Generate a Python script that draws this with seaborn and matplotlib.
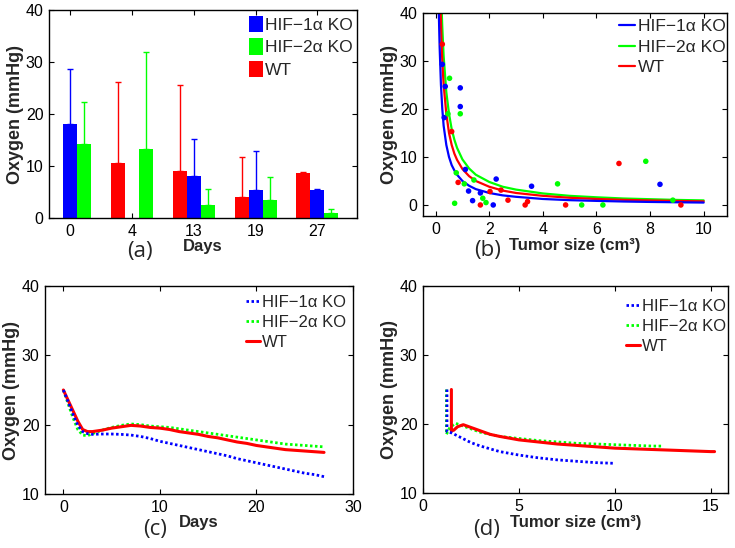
import numpy as np
import pandas as pd
import matplotlib
matplotlib.use("Agg")
import matplotlib.pyplot as plt
import seaborn as sns
from matplotlib.patches import Patch
from matplotlib.lines import Line2D

# ---------------- data ----------------
G1, G2, WT = "HIF\u22121\u03b1 KO", "HIF\u22122\u03b1 KO", "WT"
groups = [G1, G2, WT]
colors = {G1: "#0000ff", G2: "#00ff00", WT: "#ff0000"}

# (a) bar chart
days_a = ["0", "4", "13", "19", "27"]
wt_mean = [np.nan, 10.6, 9.1, 4.0, 8.7]
wt_err = [np.nan, 15.5, 16.4, 7.7, 0.2]
hif1_mean = [18.1, np.nan, 8.0, 5.3, 5.4]
hif1_err = [10.5, np.nan, 7.2, 7.6, 0.2]
hif2_mean = [14.3, 13.2, 2.5, 3.5, 0.95]
hif2_err = [8.0, 18.8, 3.0, 4.3, 0.75]

# (b) scatter points
b1_x = [0.25, 0.36, 0.32, 0.92, 0.92, 1.11, 1.23, 1.38, 1.67, 2.15, 2.26, 3.58, 8.37]
b1_y = [29.3, 24.7, 18.2, 24.4, 20.5, 7.4, 2.9, 0.9, 2.5, 0.0, 5.4, 3.9, 4.3]
b2_x = [0.52, 0.46, 0.92, 0.77, 1.07, 1.43, 1.76, 1.88, 0.71, 4.55, 5.45, 6.24, 7.84, 8.85]
b2_y = [26.4, 19.0, 19.0, 6.7, 4.4, 5.2, 1.4, 0.5, 0.35, 4.4, 0.0, 0.0, 9.1, 1.0]
bw_x = [0.25, 0.60, 0.84, 2.03, 2.44, 1.67, 2.70, 3.43, 3.34, 4.85, 6.84, 9.15]
bw_y = [33.5, 15.3, 4.7, 2.8, 3.1, 0.0, 1.0, 0.7, 0.0, 0.0, 8.65, 0.0]

# (b) fitted curves
f1_x = [0.12, 0.15, 0.2, 0.25, 0.3, 0.4, 0.5, 0.6, 0.7, 0.8, 1.0, 1.25, 1.5, 2, 2.5, 3, 4, 5, 6, 7, 8, 9, 10]
f1_y = [40, 33, 25, 20, 16.5, 12.5, 10, 8.3, 7.2, 6.3, 5.0, 4.0, 3.3, 2.5, 2.0, 1.7, 1.25, 1.0, 0.85, 0.72, 0.63, 0.56, 0.5]
f2_x = [0.23, 0.25, 0.3, 0.4, 0.5, 0.6, 0.7, 0.8, 1.0, 1.25, 1.5, 2, 2.5, 3, 4, 5, 6, 7, 8, 9, 10]
f2_y = [40, 37, 31, 23.5, 19, 15.8, 13.6, 11.9, 9.5, 7.6, 6.3, 4.8, 3.8, 3.2, 2.4, 1.9, 1.6, 1.35, 1.2, 1.05, 0.95]
fw_x = [0.19, 0.22, 0.25, 0.3, 0.4, 0.5, 0.6, 0.7, 0.8, 1.0, 1.25, 1.5, 2, 2.5, 3, 4, 5, 6, 7, 8, 9, 10]
fw_y = [40, 34, 30, 25, 19, 15, 12.5, 10.7, 9.4, 7.5, 6.0, 5.0, 3.8, 3.0, 2.5, 1.9, 1.5, 1.25, 1.07, 0.94, 0.83, 0.75]

# (c) model vs days
c_days = [0, 0.5, 1, 1.5, 2, 2.5, 3, 4, 5, 6, 7, 8, 9, 10, 11, 12, 13, 14, 15, 16,
          17, 18, 19, 20, 21, 22, 23, 24, 25, 26, 27]
c1_y = [25, 23.3, 21.5, 19.9, 19.0, 18.7, 18.6, 18.65, 18.65, 18.6, 18.5, 18.3, 18.0, 17.6,
        17.3, 17.0, 16.7, 16.4, 16.1, 15.8, 15.5, 15.1, 14.8, 14.5, 14.2, 13.9, 13.6, 13.3,
        13.0, 12.8, 12.5]
c2_y = [25, 23, 21, 19.3, 18.5, 18.4, 18.7, 19.2, 19.6, 19.9, 20.1, 20.0, 19.8, 19.7, 19.6,
        19.4, 19.2, 19.0, 18.8, 18.6, 18.4, 18.2, 18.0, 17.8, 17.6, 17.4, 17.2, 17.1, 17.0,
        16.9, 16.8]
cw_y = [25, 23.5, 22.0, 20.5, 19.3, 19.0, 19.0, 19.2, 19.5, 19.7, 19.9, 19.8, 19.6, 19.5,
        19.3, 19.0, 18.8, 18.6, 18.3, 18.1, 17.8, 17.5, 17.3, 17.0, 16.8, 16.6, 16.4, 16.3,
        16.2, 16.1, 16.0]

# (d) model vs tumor size
d1_x = [1.25, 1.25, 1.25, 1.5, 2, 2.5, 3, 3.5, 4, 5, 6, 7, 8, 9, 10]
d1_y = [25, 22, 18.9, 18.7, 18.0, 17.3, 16.8, 16.4, 16.0, 15.5, 15.1, 14.8, 14.6, 14.4, 14.3]
d2_x = [1.22, 1.22, 1.22, 1.4, 1.7, 2, 2.5, 3, 3.5, 4, 5, 6, 7, 8, 9, 10, 11, 12, 12.5]
d2_y = [25, 22, 18.5, 19.5, 20.1, 19.8, 19.3, 18.8, 18.5, 18.2, 17.9, 17.6, 17.4, 17.2,
        17.1, 17.0, 16.9, 16.8, 16.8]
dw_x = [1.48, 1.48, 1.48, 1.6, 1.8, 2.1, 2.5, 3, 3.5, 4, 5, 6, 7, 8, 9, 10, 11, 12, 13,
        14, 15, 15.2]
dw_y = [25, 22, 19, 19.1, 19.6, 19.9, 19.5, 19.0, 18.5, 18.2, 17.7, 17.4, 17.1, 16.9, 16.7,
        16.5, 16.4, 16.3, 16.2, 16.1, 16.0, 16.0]

# ---------------- style ----------------
sns.set_style("ticks")
plt.rcParams["font.family"] = ["Liberation Sans", "DejaVu Sans"]
TICK_FS = 11.5
XL_FS = 12
YL_FS = 13
LEG_FS = 12.5

fig = plt.figure(figsize=(7.35, 5.48), dpi=100)
W, H = 735.0, 548.0
axa = fig.add_axes([49 / W, 1 - 218 / H, 308 / W, 208 / H])
axb = fig.add_axes([423 / W, 1 - 216 / H, 304 / W, 203 / H])
axc = fig.add_axes([45 / W, 1 - 494 / H, 308 / W, 208 / H])
axd = fig.add_axes([423 / W, 1 - 493 / H, 305 / W, 207 / H])


def style_axes(ax):
    for s in ax.spines.values():
        s.set_visible(True)
        s.set_linewidth(1.0)
        s.set_color("black")
    ax.tick_params(direction="in", top=True, right=True, length=3.5, width=0.8,
                   labelsize=TICK_FS, pad=4, colors="black")


# ---------------- (a) ----------------
hue_order = [WT, G1, G2]
df_a = pd.concat([
    pd.DataFrame({"day": days_a, "oxy": wt_mean, "g": WT}),
    pd.DataFrame({"day": days_a, "oxy": hif1_mean, "g": G1}),
    pd.DataFrame({"day": days_a, "oxy": hif2_mean, "g": G2}),
]).dropna()
errs = {WT: wt_err, G1: hif1_err, G2: hif2_err}
sns.barplot(data=df_a, x="day", y="oxy", hue="g", order=days_a, hue_order=hue_order,
            palette=colors, saturation=1, width=0.68, errorbar=None, linewidth=0,
            legend=False, ax=axa)
for cont, g in zip(axa.containers, hue_order):
    for bar in cont:
        cx = bar.get_x() + bar.get_width() / 2
        idx = int(round(cx))
        h = bar.get_height()
        e = errs[g][idx]
        if np.isnan(e) or np.isnan(h):
            continue
        axa.errorbar([cx], [h], yerr=[[0], [e]], color=colors[g], capsize=2.5,
                     elinewidth=1.0, capthick=1.0, fmt="none", zorder=1)
axa.set_xlim(-0.34, 4.64)
axa.set_ylim(0, 40)
axa.set_yticks([0, 10, 20, 30, 40])
axa.set_xlabel("Days", fontsize=XL_FS, fontweight="bold", labelpad=0)
axa.set_ylabel("Oxygen (mmHg)", fontsize=YL_FS, fontweight="bold", labelpad=1)
style_axes(axa)
axa.legend(handles=[Patch(facecolor=colors[g], edgecolor="none", label=g) for g in groups],
           loc="upper right", bbox_to_anchor=(1 - 3 / 308, 1 - 4 / 208), frameon=False,
           fontsize=LEG_FS, handlelength=0.8, handleheight=1.1, handletextpad=0.1,
           labelspacing=0.3, borderaxespad=0, borderpad=0.1)

# ---------------- (b) ----------------
df_b = pd.concat([
    pd.DataFrame({"x": b1_x, "y": b1_y, "g": G1}),
    pd.DataFrame({"x": b2_x, "y": b2_y, "g": G2}),
    pd.DataFrame({"x": bw_x, "y": bw_y, "g": WT}),
])
curves = {G1: (f1_x, f1_y), G2: (f2_x, f2_y), WT: (fw_x, fw_y)}
for g in [G2, WT, G1]:
    sns.lineplot(x=curves[g][0], y=curves[g][1], color=colors[g], linewidth=1.6,
                 sort=False, estimator=None, ax=axb, zorder=2)
sns.scatterplot(data=df_b, x="x", y="y", hue="g", palette=colors, s=16, linewidth=0,
                legend=False, ax=axb, zorder=3)
axb.set_xlim(-0.47, 10.87)
axb.set_ylim(-2.3, 40)
axb.set_xticks([0, 2, 4, 6, 8, 10])
axb.set_yticks([0, 10, 20, 30, 40])
axb.set_xlabel("Tumor size (cm\u00b3)", fontsize=XL_FS, fontweight="bold", labelpad=1)
axb.set_ylabel("Oxygen (mmHg)", fontsize=YL_FS, fontweight="bold", labelpad=1)
style_axes(axb)
axb.legend(handles=[Line2D([], [], color=colors[g], lw=1.6, label=g) for g in groups],
           loc="upper right", bbox_to_anchor=(1.0, 1 - 4 / 203), frameon=False,
           fontsize=LEG_FS, handlelength=0.9, handletextpad=0.15, labelspacing=0.32,
           borderaxespad=0, borderpad=0.1)

# ---------------- (c) & (d) ----------------
dot = (0, (0.9, 0.9))
lstyle = {G1: dot, G2: dot, WT: "-"}
lw = {G1: 2.0, G2: 2.0, WT: 2.2}
cser = {G1: (c_days, c1_y), G2: (c_days, c2_y), WT: (c_days, cw_y)}
dser = {G1: (d1_x, d1_y), G2: (d2_x, d2_y), WT: (dw_x, dw_y)}
for ax, ser, anchor in [(axc, cser, (1 - 5 / 308, 1 - 7 / 208)),
                        (axd, dser, (1.0, 1 - 11 / 207))]:
    for g in [G2, WT, G1]:
        sns.lineplot(x=ser[g][0], y=ser[g][1], color=colors[g], linewidth=lw[g],
                     linestyle=lstyle[g], sort=False, estimator=None, ax=ax)
    ax.set_ylim(10, 40)
    ax.set_yticks([10, 20, 30, 40])
    ax.set_ylabel("Oxygen (mmHg)", fontsize=YL_FS, fontweight="bold", labelpad=1)
    style_axes(ax)
    ax.legend(handles=[Line2D([], [], color=colors[g], lw=lw[g], linestyle=lstyle[g], label=g)
                       for g in groups],
              loc="upper right", bbox_to_anchor=anchor, frameon=False,
              fontsize=LEG_FS - 0.5, handlelength=0.8, handletextpad=0.15,
              labelspacing=0.3, borderaxespad=0, borderpad=0.1)

axc.set_xlim(-1.9, 30)
axc.set_xticks([0, 10, 20, 30])
axc.set_xlabel("Days", fontsize=XL_FS, fontweight="bold", labelpad=0)
axd.set_xlim(0, 15.9)
axd.set_xticks([0, 5, 10, 15])
axd.set_xlabel("Tumor size (cm\u00b3)", fontsize=XL_FS, fontweight="bold", labelpad=1)

# panel letters
for lab, px, py in [("(a)", 140, 251), ("(b)", 488, 250), ("(c)", 155, 530), ("(d)", 487, 530)]:
    fig.text(px / W, 1 - py / H, lab, fontsize=16, family=["Open Sans", "DejaVu Sans"],
             ha="center", va="center")

fig.savefig("out.png", dpi=100)
